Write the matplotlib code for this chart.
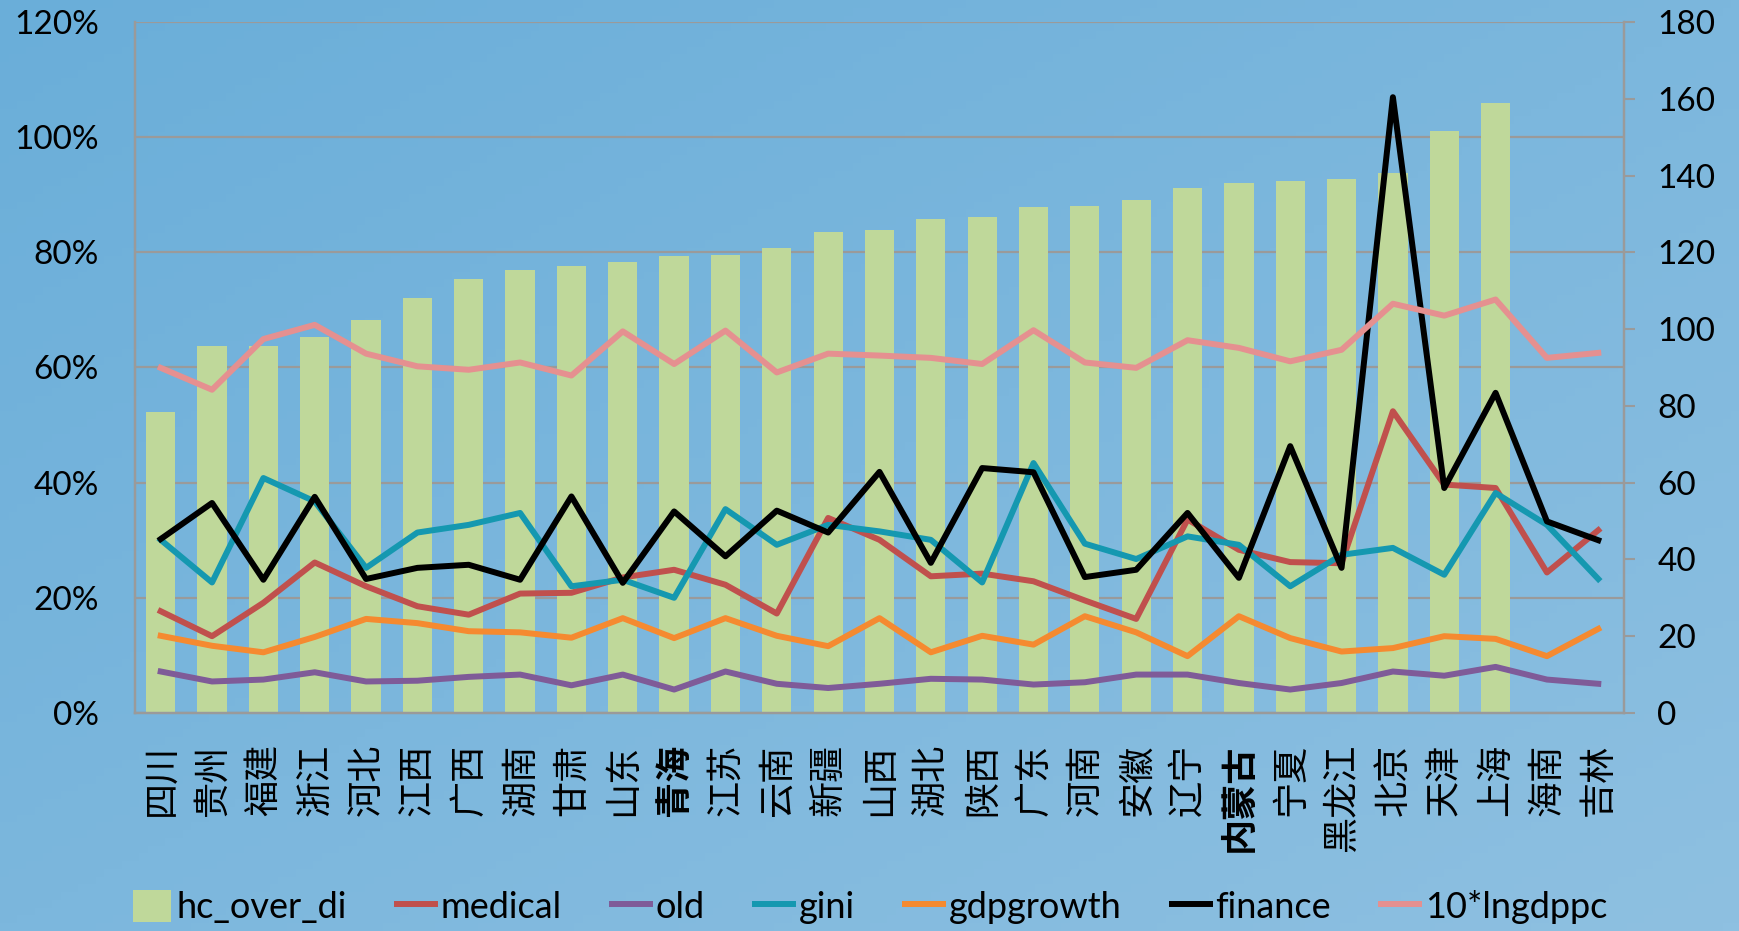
import matplotlib.pyplot as plt
import matplotlib.ticker as mticker
import numpy as np

plt.rcParams['font.family'] = ['Lato', 'Noto Sans CJK SC', 'DejaVu Sans']

provinces = ['四川', '贵州', '福建', '浙江', '河北', '江西', '广西', '湖南', '甘肃', '山东',
             '青海', '江苏', '云南', '新疆', '山西', '湖北', '陕西', '广东', '河南', '安徽',
             '辽宁', '内蒙古', '宁夏', '黑龙江', '北京', '天津', '上海', '海南', '吉林']

# bars, left axis (share)
hc_over_di = [0.522, 0.638, 0.638, 0.653, 0.683, 0.721, 0.754, 0.770, 0.777, 0.783,
              0.794, 0.796, 0.807, 0.836, 0.838, 0.858, 0.862, 0.878, 0.880, 0.891,
              0.911, 0.920, 0.924, 0.928, 0.937, 1.010, 1.060, np.nan, np.nan]

# lines, right axis
medical = [26.5, 20.0, 28.7, 39.2, 33.0, 27.8, 25.6, 31.1, 31.3, 35.3,
           37.3, 33.4, 25.9, 50.8, 45.1, 35.6, 36.3, 34.3, 29.3, 24.5,
           50.4, 42.5, 39.3, 39.0, 78.6, 59.5, 58.6, 36.6, 47.6]
old = [10.8, 8.2, 8.7, 10.6, 8.2, 8.4, 9.4, 10.0, 7.2, 10.0,
       6.1, 10.8, 7.6, 6.5, 7.6, 8.9, 8.7, 7.4, 8.0, 10.0,
       10.0, 7.8, 6.1, 7.8, 10.8, 9.7, 12.0, 8.7, 7.6]
gini = [45.1, 34.0, 61.2, 55.1, 37.8, 47.0, 49.0, 52.1, 33.0, 34.7,
        30.0, 53.1, 43.8, 49.0, 47.3, 45.1, 34.0, 65.1, 44.1, 40.1,
        46.0, 43.8, 33.0, 41.2, 43.0, 36.0, 57.3, 49.0, 34.9]
gdpgrowth = [20.1, 17.5, 15.8, 19.8, 24.5, 23.4, 21.3, 21.0, 19.6, 24.7,
             19.5, 24.7, 20.1, 17.4, 24.7, 15.8, 20.1, 17.8, 25.2, 21.0,
             14.8, 25.2, 19.5, 16.0, 16.9, 20.0, 19.3, 14.8, 21.9]
finance = [45.3, 54.7, 34.7, 56.3, 34.9, 37.8, 38.6, 34.7, 56.4, 33.9,
           52.5, 40.8, 52.7, 47.0, 62.8, 39.1, 63.8, 62.7, 35.4, 37.3,
           52.1, 35.2, 69.5, 37.8, 160.4, 58.6, 83.4, 49.9, 45.0]
lngdppc10 = [89.9, 84.2, 97.4, 101.1, 93.6, 90.3, 89.4, 91.3, 87.9, 99.4,
             90.9, 99.6, 88.7, 93.6, 93.1, 92.5, 90.9, 99.7, 91.3, 89.9,
             97.1, 95.1, 91.6, 94.6, 106.6, 103.5, 107.7, 92.5, 93.8]

x = np.arange(len(provinces))
bg = '#80b7dc'
grid_c = '#9a9a9a'

fig = plt.figure(figsize=(17.4, 9.31), dpi=100, facecolor=bg)

# soft background gradient
bgax = fig.add_axes([0, 0, 1, 1], zorder=-10)
gx, gy = np.meshgrid(np.linspace(0, 1, 200), np.linspace(0, 1, 120))
bgax.imshow(gx * 0.5 + gy * 0.5, cmap=plt.matplotlib.colors.LinearSegmentedColormap.from_list(
    'bgc', ['#6aaed9', '#8ec0e1']), aspect='auto', extent=[0, 1, 0, 1], origin='upper')
bgax.axis('off')

ax = fig.add_axes([0.0776, 0.2342, 0.8557, 0.7422])
ax.set_facecolor('none')
ax2 = ax.twinx()

ax.bar(x, hc_over_di, width=0.57, color='#bfd89a', label='hc_over_di', zorder=2)
ax.set_xlim(-0.5, len(provinces) - 0.5)
ax.set_ylim(0, 1.2)
ax.yaxis.set_major_locator(mticker.MultipleLocator(0.2))
ax.yaxis.set_major_formatter(mticker.PercentFormatter(1.0, decimals=0))
ax.set_axisbelow(True)
ax.grid(axis='y', color=grid_c, linewidth=1.6)
ax.tick_params(axis='y', length=0, pad=26, labelsize=24)
ax.tick_params(axis='x', length=0, pad=22, labelsize=26)
ax.set_xticks(x)
ax.set_xticklabels(provinces, rotation=90, va='top')
for i in (10, 21):
    ax.get_xticklabels()[i].set_fontweight('bold')

lw = 4.3
ax2.plot(x, medical, color='#c0504d', lw=lw, label='medical')
ax2.plot(x, old, color='#7f5b98', lw=lw, label='old')
ax2.plot(x, gini, color='#1598b0', lw=lw, label='gini')
ax2.plot(x, gdpgrowth, color='#f58a30', lw=lw, label='gdpgrowth')
ax2.plot(x, finance, color='black', lw=lw, label='finance')
ax2.plot(x, lngdppc10, color='#e59090', lw=lw, label='10*lngdppc')
ax2.set_ylim(0, 180)
ax2.yaxis.set_major_locator(mticker.MultipleLocator(20))
ax2.tick_params(axis='y', length=8, width=1.5, color=grid_c, pad=16, labelsize=24)

for a in (ax, ax2):
    for s in a.spines.values():
        s.set_color(grid_c)
        s.set_linewidth(1.6)
    a.spines['top'].set_visible(False)

h1, l1 = ax.get_legend_handles_labels()
h2, l2 = ax2.get_legend_handles_labels()
fig.legend(h1 + h2, l1 + l2, loc='center', bbox_to_anchor=(0.5, 0.026), ncol=7,
           frameon=False, fontsize=26, handlelength=1.05, handleheight=1.0,
           handletextpad=0.15, columnspacing=1.4)

fig.savefig('out.png', dpi=100, facecolor=fig.get_facecolor())
